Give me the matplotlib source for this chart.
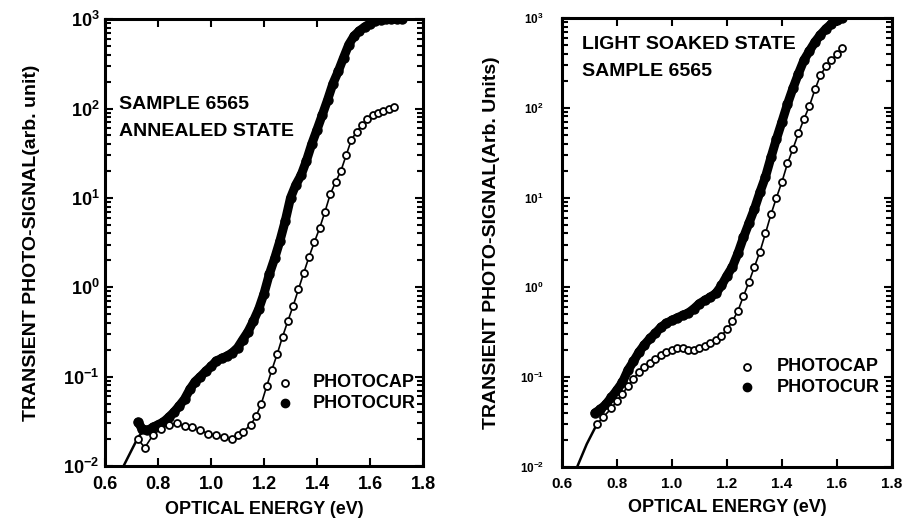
import math
import matplotlib
matplotlib.use("Agg")
import matplotlib.pyplot as plt
from matplotlib.ticker import FixedLocator, LogLocator, FuncFormatter, NullFormatter

plt.rcParams['font.family'] = ['Liberation Sans', 'DejaVu Sans']
plt.rcParams['font.weight'] = 'bold'
plt.rcParams['mathtext.fontset'] = 'custom'
plt.rcParams['mathtext.rm'] = 'Liberation Sans:bold'
plt.rcParams['mathtext.it'] = 'Liberation Sans:bold'
plt.rcParams['mathtext.bf'] = 'Liberation Sans:bold'

# ---- annealed state (left panel) ----
ann_cap_e = [0.725, 0.75, 0.78, 0.81, 0.84, 0.87, 0.90, 0.93, 0.96, 0.99, 1.02, 1.05,
             1.08, 1.10, 1.12, 1.15, 1.17, 1.19, 1.21, 1.23, 1.25, 1.27, 1.29, 1.31,
             1.33, 1.35, 1.37, 1.39, 1.41, 1.43, 1.45, 1.47, 1.49, 1.51, 1.53, 1.55,
             1.57, 1.59, 1.61, 1.63, 1.65, 1.67, 1.69]
ann_cap_s = [0.020, 0.016, 0.022, 0.026, 0.029, 0.030, 0.028, 0.027, 0.025, 0.023, 0.022, 0.021,
             0.020, 0.022, 0.024, 0.029, 0.036, 0.050, 0.078, 0.12, 0.18, 0.28, 0.42, 0.62,
             0.95, 1.45, 2.2, 3.2, 4.6, 7.0, 11, 15, 20, 30, 45, 55,
             66, 76, 84, 90, 95, 99, 103]

ann_cur_e = [0.725, 0.74, 0.76, 0.78, 0.80, 0.82, 0.84, 0.86, 0.88, 0.90, 0.92, 0.94,
             0.96, 0.98, 1.00, 1.02, 1.04, 1.06, 1.08, 1.10, 1.12, 1.14, 1.16, 1.18,
             1.20, 1.22, 1.24, 1.26, 1.28, 1.30, 1.32, 1.34, 1.36, 1.38, 1.40, 1.42,
             1.44, 1.46, 1.48, 1.50, 1.52, 1.54, 1.56, 1.58, 1.60, 1.62, 1.64, 1.66,
             1.68, 1.70, 1.72]
ann_cur_s = [0.031, 0.026, 0.025, 0.027, 0.029, 0.031, 0.035, 0.040, 0.047, 0.056, 0.072, 0.088,
             0.100, 0.115, 0.130, 0.150, 0.160, 0.170, 0.185, 0.21, 0.26, 0.32, 0.42, 0.57,
             0.85, 1.4, 2.1, 3.3, 5.5, 10, 14, 18, 26, 40, 58, 85,
             125, 190, 260, 370, 520, 650, 740, 820, 890, 950, 985, 1000,
             1000, 1000, 1000]

ann_fit_e = [0.67, 0.70, 0.725, 0.75]
ann_fit_s = [0.010, 0.015, 0.021, 0.026]

# ---- light soaked state (right panel) ----
ls_cap_e = [0.727, 0.75, 0.78, 0.80, 0.82, 0.84, 0.86, 0.88, 0.90, 0.92, 0.94, 0.96,
            0.98, 1.00, 1.02, 1.04, 1.06, 1.08, 1.10, 1.12, 1.14, 1.16, 1.18, 1.20,
            1.22, 1.24, 1.26, 1.28, 1.30, 1.32, 1.34, 1.36, 1.38, 1.40, 1.42, 1.44,
            1.46, 1.48, 1.50, 1.52, 1.54, 1.56, 1.58, 1.60, 1.62]
ls_cap_s = [0.030, 0.036, 0.045, 0.055, 0.065, 0.080, 0.095, 0.115, 0.13, 0.145, 0.16, 0.175,
            0.19, 0.20, 0.21, 0.21, 0.20, 0.20, 0.21, 0.22, 0.24, 0.26, 0.29, 0.34,
            0.42, 0.55, 0.80, 1.15, 1.7, 2.5, 4.0, 6.5, 10, 15, 24, 35,
            52, 75, 105, 160, 230, 290, 340, 400, 460]

ls_cur_e = [0.72, 0.74, 0.76, 0.78, 0.80, 0.82, 0.84, 0.86, 0.88, 0.90, 0.92, 0.94,
            0.96, 0.98, 1.00, 1.02, 1.04, 1.06, 1.08, 1.10, 1.12, 1.14, 1.16, 1.18,
            1.20, 1.22, 1.24, 1.26, 1.28, 1.30, 1.32, 1.34, 1.36, 1.38, 1.40, 1.42,
            1.44, 1.46, 1.48, 1.50, 1.52, 1.54, 1.56, 1.58, 1.60, 1.62]
ls_cur_s = [0.040, 0.044, 0.050, 0.060, 0.072, 0.088, 0.12, 0.15, 0.19, 0.23, 0.27, 0.31,
            0.36, 0.40, 0.43, 0.46, 0.49, 0.52, 0.58, 0.66, 0.72, 0.78, 0.86, 1.05,
            1.35, 1.7, 2.4, 3.6, 5.2, 7.5, 11.5, 17, 28, 45, 70, 110,
            165, 240, 340, 430, 540, 650, 760, 860, 950, 1000]

ls_fit_e = [0.655, 0.69, 0.727]
ls_fit_s = [0.010, 0.018, 0.030]

decades = [1e-2, 1e-1, 1e0, 1e1, 1e2, 1e3]
energy_ticks = [0.6, 0.8, 1.0, 1.2, 1.4, 1.6, 1.8]


def decade_label(v, pos):
    return r'$10^{%d}$' % round(math.log10(v))


def style_axes(ax, ylab, xtick_fs, ytick_fs, ypad, ylabpad):
    ax.set_xlim(0.6, 1.8)
    ax.set_ylim(1e-2, 1e3)
    ax.set_yscale('log')
    ax.xaxis.set_major_locator(FixedLocator(energy_ticks))
    ax.xaxis.set_major_formatter(FuncFormatter(lambda v, p: '%.1f' % v))
    ax.yaxis.set_major_locator(FixedLocator(decades))
    ax.yaxis.set_minor_locator(LogLocator(base=10, subs=range(2, 10), numticks=20))
    ax.yaxis.set_major_formatter(FuncFormatter(decade_label))
    ax.yaxis.set_minor_formatter(NullFormatter())
    ax.tick_params(which='both', direction='in', top=True, right=True, width=1.5)
    ax.tick_params(which='major', length=6)
    ax.tick_params(which='minor', length=4)
    ax.tick_params(axis='x', labelsize=xtick_fs, pad=7)
    ax.tick_params(axis='y', labelsize=ytick_fs, pad=ypad)
    for s in ax.spines.values():
        s.set_linewidth(2.2)
    for lab in ax.get_xticklabels() + ax.get_yticklabels():
        lab.set_fontweight('bold')
    ax.set_xlabel('OPTICAL ENERGY (eV)', fontsize=13, fontweight='bold', labelpad=6)
    ax.set_ylabel(ylab, fontsize=14, fontweight='bold', labelpad=ylabpad)


def draw(ax, cap_e, cap_s, cur_e, cur_s, fit_e, fit_s):
    ax.plot(fit_e, fit_s, color='black', lw=1.8, zorder=2)
    ax.plot(cap_e, cap_s, color='black', lw=1.2, zorder=2)
    ax.plot(cur_e, cur_s, color='black', lw=6.5, zorder=3, solid_capstyle='round')
    ax.plot(cur_e, cur_s, 'o', ms=6.5, mfc='black', mec='black', zorder=4)
    ax.plot(cap_e, cap_s, 'o', ms=5, mfc='white', mec='black', mew=1.3, zorder=5)


def legend_marks(ax, x, y_cap, y_cur, x_text):
    ax.plot([x], [y_cap], 'o', ms=5, mfc='white', mec='black', mew=1.3,
            transform=ax.transAxes, clip_on=False)
    ax.plot([x], [y_cur], 'o', ms=6, mfc='black', mec='black',
            transform=ax.transAxes, clip_on=False)
    ax.text(x_text, y_cap, 'PHOTOCAP', transform=ax.transAxes, fontsize=13,
            fontweight='bold', va='center')
    ax.text(x_text, y_cur, 'PHOTOCUR', transform=ax.transAxes, fontsize=13,
            fontweight='bold', va='center')


fig = plt.figure(figsize=(9.06, 5.32), dpi=100)
ax1 = fig.add_axes([0.1159, 0.124, 0.351, 0.840])
ax2 = fig.add_axes([0.6203, 0.1222, 0.3642, 0.844])

draw(ax1, ann_cap_e, ann_cap_s, ann_cur_e, ann_cur_s, ann_fit_e, ann_fit_s)
style_axes(ax1, 'TRANSIENT PHOTO-SIGNAL(arb. unit)', 13, 13, 4, 17)
ax1.text(0.045, 0.81, 'SAMPLE 6565', transform=ax1.transAxes, fontsize=14,
         fontweight='bold', va='center')
ax1.text(0.045, 0.749, 'ANNEALED STATE', transform=ax1.transAxes, fontsize=14,
         fontweight='bold', va='center', zorder=1)
legend_marks(ax1, 0.566, 0.186, 0.141, 0.652)

draw(ax2, ls_cap_e, ls_cap_s, ls_cur_e, ls_cur_s, ls_fit_e, ls_fit_s)
style_axes(ax2, 'TRANSIENT PHOTO-SIGNAL(Arb. Units)', 11, 8.5, 13, 14)
ax2.text(0.06, 0.94, 'LIGHT SOAKED STATE', transform=ax2.transAxes, fontsize=14,
         fontweight='bold', va='center', zorder=1)
ax2.text(0.06, 0.88, 'SAMPLE 6565', transform=ax2.transAxes, fontsize=14,
         fontweight='bold', va='center')
legend_marks(ax2, 0.56, 0.223, 0.178, 0.652)

fig.savefig('out.png', dpi=100)
